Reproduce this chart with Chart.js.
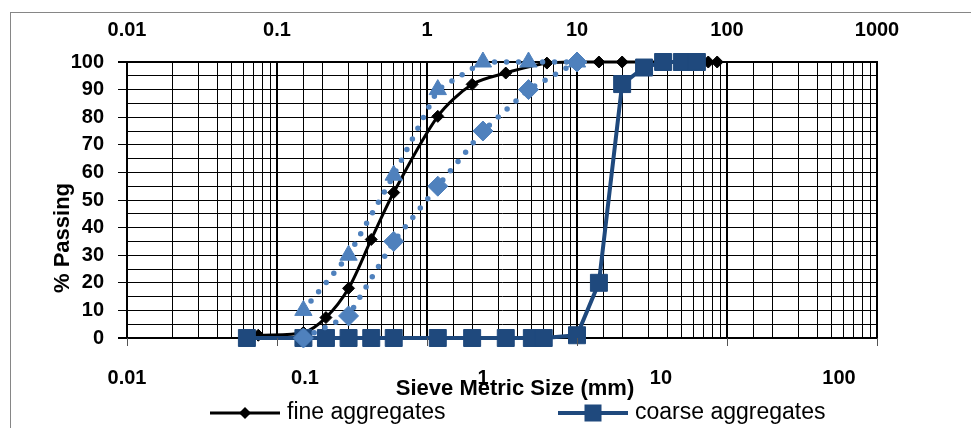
<!DOCTYPE html>
<html>
<head>
<meta charset="utf-8">
<script src="https://cdn.jsdelivr.net/npm/chart.js@4.4.1/dist/chart.umd.min.js"></script>
<style>
  html, body { margin: 0; padding: 0; background: #fff; }
  #wrap { position: relative; width: 971px; height: 428px; overflow: hidden; }
  #frame { position: absolute; left: 10px; top: 12px; width: 1000px; height: 500px; border: 1px solid #868686; box-sizing: border-box; }
  canvas { position: absolute; left: 0; top: 0; }
</style>
</head>
<body>
<div id="wrap"><div id="frame"></div><canvas id="grafico" width="971" height="428"></canvas></div>
<script>
// tamanhos de peneira (mm) e % passante
const fineSizes   = [0.075, 0.15, 0.212, 0.3, 0.425, 0.6, 1.18, 2, 3.35, 6.3, 10, 14, 20, 75, 86];
const finePassing = [1, 2, 7.4, 18, 35.7, 52.7, 80.3, 91.9, 96, 99.6, 100, 100, 100, 100, 100];

const coarseSizes   = [0.063, 0.15, 0.212, 0.3, 0.425, 0.6, 1.18, 2, 3.35, 5, 6, 10, 14, 20, 28, 37.5, 50, 63];
const coarsePassing = [0, 0, 0, 0, 0, 0, 0, 0, 0, 0, 0, 1, 20, 92, 98, 100, 100, 100];

// limites da zona (linhas pontilhadas)
const limitSizes   = [0.15, 0.3, 0.6, 1.18, 2.36, 4.75, 10];
const upperPassing = [10, 30, 59, 90, 100, 100, 100];
const lowerPassing = [0, 8, 35, 55, 75, 90, 100];

// rótulos dos eixos
const topTickValues    = [0.01, 0.1, 1, 10, 100, 1000];
const topTickLabels    = ['0.01', '0.1', '1', '10', '100', '1000'];
const bottomTickValues = [0.01, 0.1, 1, 10, 100];
const bottomTickLabels = ['0.01', '0.1', '1', '10', '100'];
const bottomAxisMax = 163.5; // eixo inferior do Excel tem outra escala

const xTitle = 'Sieve Metric Size (mm)';
const yTitle = '% Passing';
const legendNames = ['fine aggregates', 'coarse aggregates'];

const PRETO = '#000000';
const AZUL_ESCURO = '#1F497D';
const AZUL_CLARO = '#4F81BD';
const FONTE = '"Liberation Sans", Arial, sans-serif';

const pares = (xs, ys) => xs.map((x, i) => ({ x: x, y: ys[i] }));

function ehDecada(v) {
    const l = Math.log10(v);
    return Math.abs(l - Math.round(l)) < 1e-6;
}

function rotulo(v, valores, rotulos) {
    const i = valores.findIndex(t => Math.abs(t - v) / t < 1e-6);
    return i >= 0 ? rotulos[i] : '';
}

// títulos, legenda e marcas do eixo inferior
const extras = {
    id: 'extras',
    afterDraw(chart) {
        const { ctx, chartArea } = chart;
        const sx = chart.scales.x;
        ctx.save();

        // marcas de escala embaixo da área do gráfico
        ctx.strokeStyle = '#555';
        ctx.lineWidth = 1;
        topTickValues.forEach(v => {
            const px = Math.round(sx.getPixelForValue(v)) + 0.5;
            ctx.beginPath();
            ctx.moveTo(px, chartArea.bottom);
            ctx.lineTo(px, chartArea.bottom + 8);
            ctx.stroke();
        });

        // títulos dos eixos
        ctx.fillStyle = PRETO;
        ctx.font = 'bold 22px ' + FONTE;
        ctx.textAlign = 'center';
        ctx.textBaseline = 'middle';
        ctx.fillText(xTitle, 515, 389);
        ctx.save();
        ctx.translate(63, 238);
        ctx.rotate(-Math.PI / 2);
        ctx.fillText(yTitle, 0, 0);
        ctx.restore();

        // legenda (só as duas séries principais)
        const y = 413;
        ctx.lineCap = 'butt';
        ctx.strokeStyle = PRETO;
        ctx.lineWidth = 3;
        ctx.beginPath(); ctx.moveTo(210, y); ctx.lineTo(280, y); ctx.stroke();
        ctx.fillStyle = PRETO;
        ctx.beginPath();
        ctx.moveTo(245, y - 6); ctx.lineTo(251, y); ctx.lineTo(245, y + 6); ctx.lineTo(239, y);
        ctx.closePath(); ctx.fill();

        ctx.strokeStyle = AZUL_ESCURO;
        ctx.lineWidth = 4;
        ctx.beginPath(); ctx.moveTo(558, y); ctx.lineTo(628, y); ctx.stroke();
        ctx.fillStyle = AZUL_ESCURO;
        ctx.fillRect(593 - 8.5, y - 8.5, 17, 17);

        ctx.fillStyle = PRETO;
        ctx.font = '23px ' + FONTE;
        ctx.textAlign = 'left';
        ctx.fillText(legendNames[0], 287, y);
        ctx.fillText(legendNames[1], 635, y);
        ctx.restore();
    }
};

const fonteTick = { family: FONTE, size: 20, weight: 'bold' };

new Chart(document.getElementById('grafico'), {
    type: 'scatter',
    data: {
        datasets: [
            {
                label: 'upper limit',
                data: pares(limitSizes, upperPassing),
                showLine: true,
                borderColor: AZUL_CLARO,
                borderWidth: 5.5,
                borderDash: [0, 12],
                borderCapStyle: 'round',
                pointStyle: 'triangle',
                pointRadius: 10,
                pointBackgroundColor: AZUL_CLARO,
                pointBorderColor: AZUL_CLARO,
                pointBorderWidth: 1,
                clip: false
            },
            {
                label: 'lower limit',
                data: pares(limitSizes, lowerPassing),
                showLine: true,
                borderColor: AZUL_CLARO,
                borderWidth: 5.5,
                borderDash: [0, 12],
                borderCapStyle: 'round',
                pointStyle: 'rectRot',
                pointRadius: 10,
                pointBackgroundColor: AZUL_CLARO,
                pointBorderColor: AZUL_CLARO,
                pointBorderWidth: 1,
                clip: false
            },
            {
                label: legendNames[1],
                data: pares(coarseSizes, coarsePassing),
                showLine: true,
                borderColor: AZUL_ESCURO,
                borderWidth: 4,
                pointStyle: 'rect',
                pointRadius: 12,
                pointBackgroundColor: AZUL_ESCURO,
                pointBorderColor: AZUL_ESCURO,
                pointBorderWidth: 1,
                clip: false
            },
            {
                label: legendNames[0],
                data: pares(fineSizes, finePassing),
                showLine: true,
                tension: 0.3,
                borderColor: PRETO,
                borderWidth: 3,
                pointStyle: 'rectRot',
                pointRadius: 6,
                pointBackgroundColor: PRETO,
                pointBorderColor: PRETO,
                pointBorderWidth: 1,
                clip: false
            }
        ]
    },
    options: {
        responsive: false,
        animation: false,
        devicePixelRatio: 1,
        layout: { padding: { left: 0, right: 94, top: 0, bottom: 0 } },
        plugins: { legend: { display: false }, tooltip: { enabled: false } },
        scales: {
            x: {
                type: 'logarithmic',
                position: 'top',
                min: 0.01,
                max: 1000,
                afterFit: s => { s.height = 62; },
                border: { display: true, color: PRETO, width: 2 },
                grid: {
                    color: PRETO,
                    lineWidth: c => (c.tick && ehDecada(c.tick.value)) ? 2 : 1,
                    drawTicks: false
                },
                ticks: {
                    autoSkip: false,
                    maxRotation: 0,
                    padding: 20,
                    color: PRETO,
                    font: fonteTick,
                    callback: v => rotulo(v, topTickValues, topTickLabels)
                }
            },
            xb: {
                type: 'logarithmic',
                position: 'bottom',
                min: 0.01,
                max: bottomAxisMax,
                afterFit: s => { s.height = 90; },
                border: { display: false },
                grid: { display: false, drawTicks: false },
                ticks: {
                    autoSkip: false,
                    maxRotation: 0,
                    padding: 28,
                    color: PRETO,
                    font: fonteTick,
                    callback: v => rotulo(v, bottomTickValues, bottomTickLabels)
                }
            },
            y: {
                min: 0,
                max: 100,
                afterFit: s => { s.width = 127; },
                border: { display: true, color: PRETO, width: 2 },
                grid: {
                    color: PRETO,
                    lineWidth: c => (c.tick && (c.tick.value === 0 || c.tick.value === 100)) ? 2 : 1,
                    tickLength: 9,
                    tickColor: c => (c.tick && c.tick.value % 10 === 0) ? PRETO : 'rgba(0,0,0,0)'
                },
                ticks: {
                    stepSize: 5,
                    autoSkip: false,
                    padding: 14,
                    color: PRETO,
                    font: fonteTick,
                    callback: v => (v % 10 === 0 ? v : '')
                }
            }
        }
    },
    plugins: [extras]
});
</script>
</body>
</html>
